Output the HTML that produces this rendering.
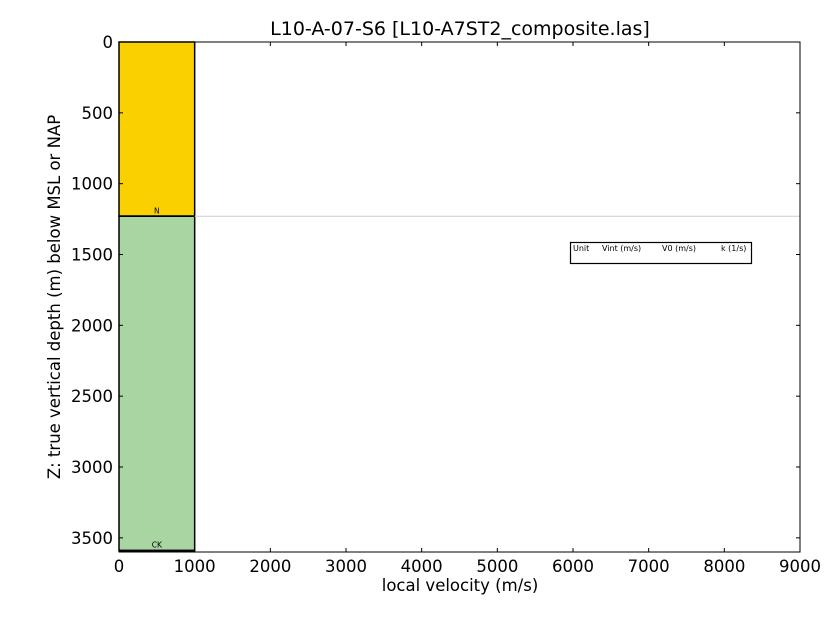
<!DOCTYPE html>
<html><head><meta charset="utf-8"><style>body{margin:0;background:#fff}svg{display:block;font-family:"DejaVu Sans","Liberation Sans",sans-serif}</style></head>
<body>
<svg id="c" width="840" height="630"></svg>
<script>
const xTicks=[0,1000,2000,3000,4000,5000,6000,7000,8000,9000];
const yTicks=[0,500,1000,1500,2000,2500,3000,3500];
const unitNames=["N","CK"];
const unitTops=[0,1230];
const unitBases=[1230,3590];
const unitVint=[1000,1000];
const unitColors=["#fad000","#a8d5a2"];
const X0=119,X1=800,Y0=42,Y1=552,XMAX=9000,YMAX=3600;
const sx=v=>X0+(X1-X0)*v/XMAX, sy=v=>Y0+(Y1-Y0)*v/YMAX;
const svg=document.getElementById('c'),NS='http://www.w3.org/2000/svg';
function mk(t,a,p){const e=document.createElementNS(NS,t);for(const k in a)e.setAttribute(k,a[k]);(p||svg).appendChild(e);return e;}
for(let i=0;i<unitNames.length;i++){
 const r=mk('rect',{x:sx(0),y:sy(unitTops[i]),width:sx(unitVint[i])-sx(0),height:sy(unitBases[i])-sy(unitTops[i]),fill:unitColors[i],stroke:'#000','stroke-width':1.5});
 
 
 const l=mk('line',{x1:sx(0),x2:sx(unitVint[i]),y1:sy(unitBases[i]),y2:sy(unitBases[i]),stroke:'#000','stroke-width':2});
 
 
 const t=mk('text',{x:sx(unitVint[i]/2),y:sy(unitBases[i])-3,'font-size':7.5,'text-anchor':'middle'});t.textContent=unitNames[i];
 
 
}
const g=mk('line',{x1:sx(unitVint[0]),x2:X1,y1:sy(unitBases[0]),y2:sy(unitBases[0]),stroke:'#ccc','stroke-width':1});


const f=mk('rect',{x:X0,y:Y0,width:X1-X0,height:Y1-Y0,fill:'none',stroke:'#000','stroke-width':1});


xTicks.forEach(v=>{const x=sx(v);mk('line',{x1:x,x2:x,y1:Y1,y2:Y1-4,stroke:'#000'});mk('line',{x1:x,x2:x,y1:Y0,y2:Y0+4,stroke:'#000'});
 const t=mk('text',{x:x,y:Y1+20,'font-size':16.5,'text-anchor':'middle'});t.textContent=v;
 
 });
yTicks.forEach(v=>{const y=sy(v);mk('line',{x1:X0,x2:X0+4,y1:y,y2:y,stroke:'#000'});mk('line',{x1:X1,x2:X1-4,y1:y,y2:y,stroke:'#000'});
 const t=mk('text',{x:X0-6,y:y+6,'font-size':16.5,'text-anchor':'end'});t.textContent=v;
 
 });
</script>
<svg width="840" height="630" style="position:absolute;left:0;top:0">
<text x="460" y="35" font-size="19" text-anchor="middle">L10-A-07-S6 [L10-A7ST2_composite.las]</text>
<text x="460" y="591" font-size="16.5" text-anchor="middle">local velocity (m/s)</text>
<text transform="translate(60,297) rotate(-90)" font-size="16.5" text-anchor="middle">Z: true vertical depth (m) below MSL or NAP</text>
<g>
<rect x="570.5" y="242.5" width="181" height="21" fill="#fff" stroke="#000" stroke-width="1.2"/>
<text x="573" y="251" font-size="8">Unit</text>
<text x="602" y="251" font-size="8">Vint (m/s)</text>
<text x="662" y="251" font-size="8">V0 (m/s)</text>
<text x="721" y="251" font-size="8">k (1/s)</text>
</g>
</svg>
</body></html>
